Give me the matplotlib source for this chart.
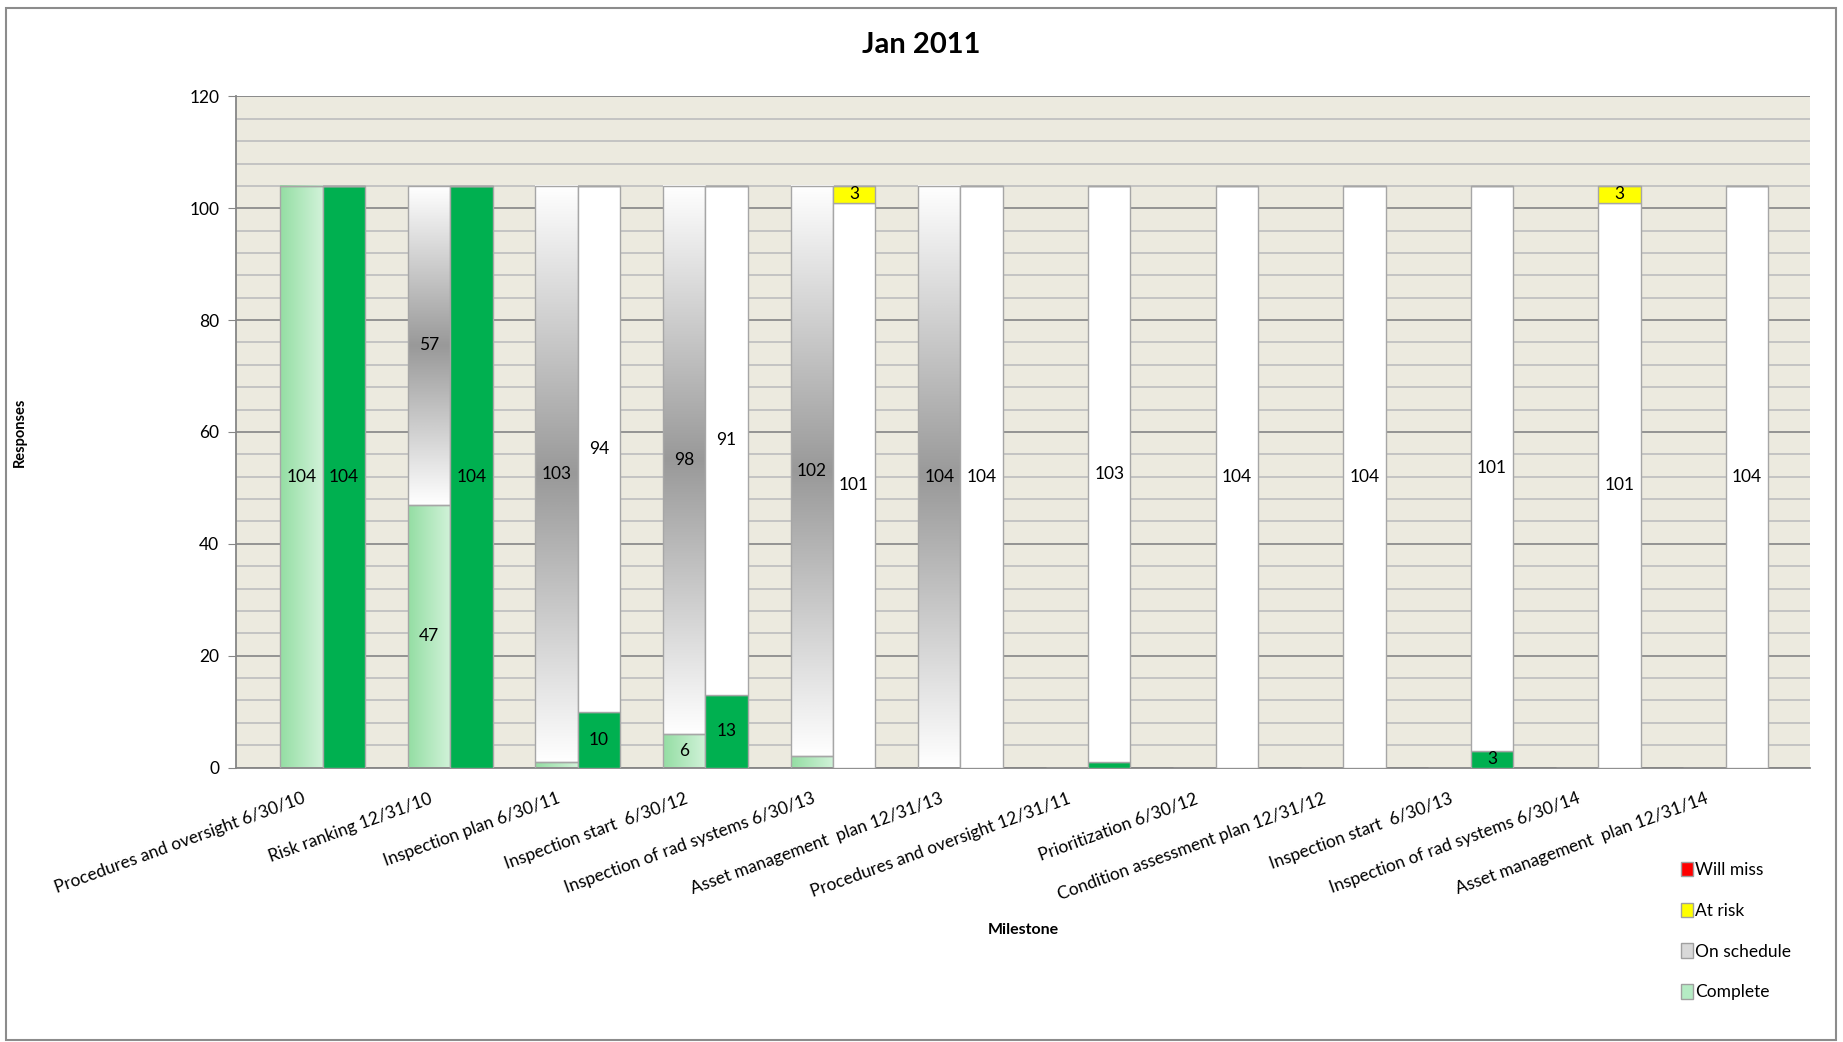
import numpy as np
import matplotlib
matplotlib.use("Agg")
import matplotlib.pyplot as plt
from matplotlib.patches import Patch, Rectangle
from matplotlib import transforms

plt.rcParams['font.family'] = ['Liberation Sans Narrow', 'Lato', 'DejaVu Sans']

categories = [
    "Procedures and oversight 6/30/10",
    "Risk ranking 12/31/10",
    "Inspection plan 6/30/11",
    "Inspection start  6/30/12",
    "Inspection of rad systems 6/30/13",
    "Asset management  plan 12/31/13",
    "Procedures and oversight 12/31/11",
    "Prioritization 6/30/12",
    "Condition assessment plan 12/31/12",
    "Inspection start  6/30/13",
    "Inspection of rad systems 6/30/14",
    "Asset management  plan 12/31/14",
]

# Left (gradient) series
left_complete = [104, 47, 1, 6, 2, 0, 0, 0, 0, 0, 0, 0]
left_on_schedule = [0, 57, 103, 98, 102, 104, 0, 0, 0, 0, 0, 0]

# Right (solid) series
right_complete = [104, 104, 10, 13, 0, 0, 1, 0, 0, 3, 0, 0]
right_on_schedule = [0, 0, 94, 91, 101, 104, 103, 104, 104, 101, 101, 104]
right_at_risk = [0, 0, 0, 0, 3, 0, 0, 0, 0, 0, 3, 0]
right_will_miss = [0] * 12

legend_labels = ["Will miss", "At risk", "On schedule", "Complete"]
yticks = [0, 20, 40, 60, 80, 100, 120]

W, H = 1843, 1042
fig = plt.figure(figsize=(W / 100, H / 100), dpi=100)
fig.patches.append(Rectangle((6 / W, 2 / H), (1836 - 6) / W, (1040 - 8) / H,
                             transform=fig.transFigure, fill=False,
                             edgecolor='#8c8c8c', lw=1.5))

ax = fig.add_axes([236 / W, 1 - 767.5 / H, (1810 - 236) / W, (767.5 - 96.4) / H])
ax.set_facecolor('#ECEADF')

x = np.arange(len(categories))
bw = 0.332
edge = '#a6a6a6'

def label_list(vals):
    return [str(v) if v >= 3 else '' for v in vals]

# left bars (outline only; gradient fill via images)
lc = ax.bar(x - bw / 2, left_complete, bw, facecolor='none', edgecolor=edge, lw=1, zorder=3)
lo = ax.bar(x - bw / 2, left_on_schedule, bw, bottom=left_complete,
            facecolor='none', edgecolor=edge, lw=1, zorder=3)

# gradient fills
hgrad = np.linspace(0, 1, 64)
c0 = np.array([0.58, 0.87, 0.64])
c1 = np.array([0.82, 0.95, 0.85])
himg = (c0[None, None, :] * (1 - hgrad)[None, :, None] + c1[None, None, :] * hgrad[None, :, None])
for p in lc.patches:
    if p.get_height() > 0:
        ax.imshow(himg, extent=(p.get_x(), p.get_x() + p.get_width(), p.get_y(), p.get_y() + p.get_height()),
                  origin='lower', aspect='auto', interpolation='bilinear', zorder=2)

t = np.linspace(0, 1, 256)
prof = 1 - 0.40 * (1 - np.abs(2 * t - 1))
vimg = np.repeat(prof[:, None, None], 3, axis=2) * np.ones((1, 8, 1))
for p in lo.patches:
    if p.get_height() > 0:
        ax.imshow(vimg, extent=(p.get_x(), p.get_x() + p.get_width(), p.get_y(), p.get_y() + p.get_height()),
                  origin='lower', aspect='auto', interpolation='bilinear', zorder=2)

fs_lab = 12.5
ax.bar_label(lc, labels=label_list(left_complete), label_type='center', fontsize=fs_lab, zorder=5)
ax.bar_label(lo, labels=label_list(left_on_schedule), label_type='center', fontsize=fs_lab, zorder=5)

# right bars
rb = np.array(right_complete)
rc = ax.bar(x + bw / 2, right_complete, bw, color='#00B050', edgecolor=edge, lw=1, zorder=3)
ro = ax.bar(x + bw / 2, right_on_schedule, bw, bottom=rb, color='white', edgecolor=edge, lw=1, zorder=3)
rb2 = rb + np.array(right_on_schedule)
ra = ax.bar(x + bw / 2, right_at_risk, bw, bottom=rb2, color='#FFFF00', edgecolor=edge, lw=1, zorder=3)
rb3 = rb2 + np.array(right_at_risk)
rw = ax.bar(x + bw / 2, right_will_miss, bw, bottom=rb3, color='#FF0000', edgecolor=edge, lw=1, zorder=3)

ax.bar_label(rc, labels=label_list(right_complete), label_type='center', fontsize=fs_lab, zorder=5)
ax.bar_label(ro, labels=label_list(right_on_schedule), label_type='center', fontsize=fs_lab, zorder=5)
ax.bar_label(ra, labels=label_list(right_at_risk), label_type='center', fontsize=fs_lab, zorder=5)

ax.set_xlim(-0.68, 11.66)
ax.set_ylim(0, 120)
ax.set_yticks(yticks)
ax.set_yticklabels([str(v) for v in yticks], fontsize=12.5)
ax.set_yticks(np.arange(0, 121, 4), minor=True)
ax.tick_params(axis='y', which='major', direction='out', length=6, color='#868686', pad=6)
ax.tick_params(axis='y', which='minor', length=0)
ax.grid(axis='y', which='major', color='#8c8c8c', lw=1.3, zorder=1)
ax.grid(axis='y', which='minor', color='#c0c0c0', lw=1.3, zorder=1)
ax.set_axisbelow(True)
ax.set_xticks([])
for s in ['top', 'right']:
    ax.spines[s].set_visible(False)
for s in ['left', 'bottom']:
    ax.spines[s].set_color('#868686')
    ax.spines[s].set_linewidth(1.3)
ax.axhline(120, color='#8c8c8c', lw=1.3, zorder=1)

# x tick labels
for i, lab in enumerate(categories):
    tr = transforms.blended_transform_factory(ax.transData, ax.transAxes) + \
        transforms.ScaledTranslation(-21 / 100, -23 / 100, fig.dpi_scale_trans)
    ax.text(x[i], 0, lab, transform=tr, rotation=20, rotation_mode='anchor',
            ha='right', va='top', fontsize=12.5)

fig.text(0.5, 1 - 45 / H, "Jan 2011", ha='center', va='center',
         fontsize=21, fontweight='bold')
fig.text(20 / W, 1 - 432 / H, "Responses", rotation=90, ha='center', va='center',
         fontsize=10.5, fontweight='bold')
fig.text(1023 / W, 1 - 930 / H, "Milestone", ha='center', va='center',
         fontsize=11.5, fontweight='bold')

handles = [Patch(facecolor='#FF0000', edgecolor='#a0a0a0'),
           Patch(facecolor='#FFFF00', edgecolor='#a0a0a0'),
           Patch(facecolor='#d9d9d9', edgecolor='#a0a0a0'),
           Patch(facecolor='#b5ebc4', edgecolor='#a0a0a0')]
fig.legend(handles, legend_labels, loc='upper left', bbox_to_anchor=(1672 / W, 1 - 853 / H),
           frameon=False, fontsize=12.5, handlelength=0.7, handleheight=0.9,
           handletextpad=0.15, labelspacing=1.42, borderpad=0)

fig.savefig("out.png", dpi=100)
